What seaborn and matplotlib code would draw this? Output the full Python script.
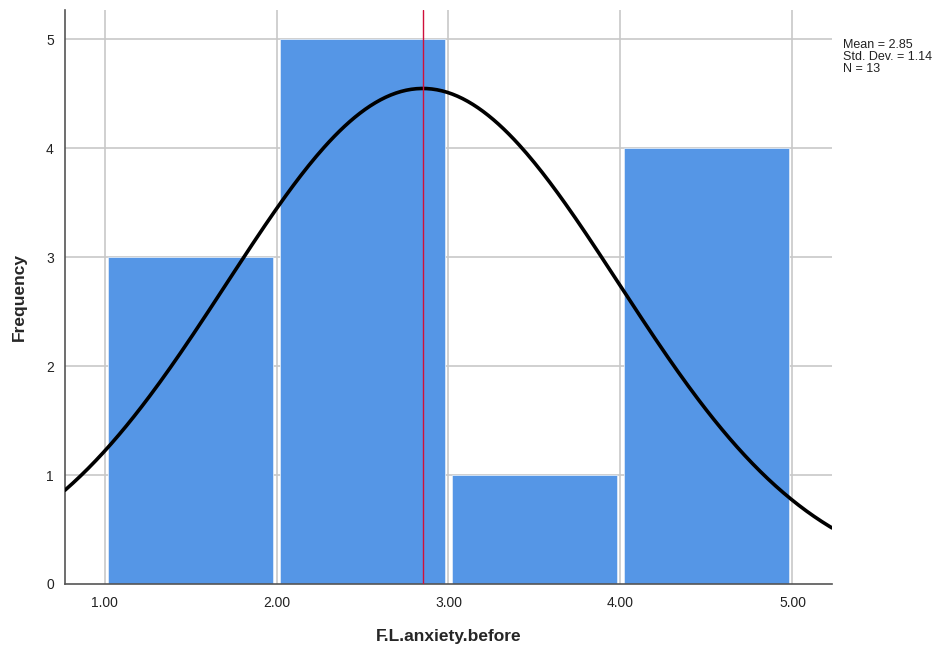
import numpy as np
import pandas as pd
import matplotlib
matplotlib.use('Agg')
import matplotlib.pyplot as plt
import seaborn as sns

# datos del histograma
bin_edges = [1, 2, 3, 4, 5]
bin_centers = [1.5, 2.5, 3.5, 4.5]
counts = [3, 5, 1, 4]
mean_val = 2.85
std_val = 1.14
n_val = 13
x_ticks = [1, 2, 3, 4, 5]
y_ticks = [0, 1, 2, 3, 4, 5]

sns.set_style('white')
plt.rcParams['font.family'] = ['Liberation Sans', 'DejaVu Sans']

data = pd.DataFrame({'x': bin_centers, 'w': counts})

fig = plt.figure(figsize=(9.47, 6.52), dpi=100)
ax = fig.add_axes([0.0686, 0.1043, 0.81, 0.8804])

# grid detras de las barras
ax.set_axisbelow(True)
for t in x_ticks:
    ax.axvline(t, color='#c8c8c8', lw=1.2, zorder=0)
for t in y_ticks[1:]:
    ax.axhline(t, color='#c8c8c8', lw=1.2, zorder=0)

sns.histplot(data=data, x='x', weights='w', bins=bin_edges, ax=ax,
             color='#5596E6', alpha=1, edgecolor='#dce9f9', linewidth=0.6,
             shrink=0.96, zorder=2)

# curva normal
xs = np.linspace(0.77, 5.23, 300)
ys = n_val * 1.0 * np.exp(-0.5 * ((xs - mean_val) / std_val) ** 2) / (std_val * np.sqrt(2 * np.pi))
sns.lineplot(x=xs, y=ys, ax=ax, color='black', lw=2.6, zorder=4)

# linea de la media
ax.axvline(mean_val, color='#d0103a', lw=1.0, zorder=5)

ax.set_xlim(0.77, 5.23)
ax.set_ylim(0, 5.27)
ax.set_xticks(x_ticks)
ax.set_xticklabels(['%.2f' % t for t in x_ticks])
ax.set_yticks(y_ticks)
ax.tick_params(axis='x', length=0, labelsize=10, colors='#222222', pad=9)
ax.tick_params(axis='y', length=0, labelsize=10, colors='#222222', pad=8)

for s in ['top', 'right']:
    ax.spines[s].set_visible(False)
for s in ['left', 'bottom']:
    ax.spines[s].set_color('#555555')
    ax.spines[s].set_linewidth(1.2)

ax.set_xlabel('F.L.anxiety.before', fontsize=12.5, fontweight='bold', labelpad=13)
ax.set_ylabel('Frequency', fontsize=12.5, fontweight='bold', labelpad=14)

fig.text(0.89, 0.94, 'Mean = %.2f\nStd. Dev. = %.2f\nN = %d' % (mean_val, std_val, n_val),
         fontsize=9, va='top', ha='left', linespacing=1.0, color='#222222')

fig.savefig('out.png', dpi=100)
